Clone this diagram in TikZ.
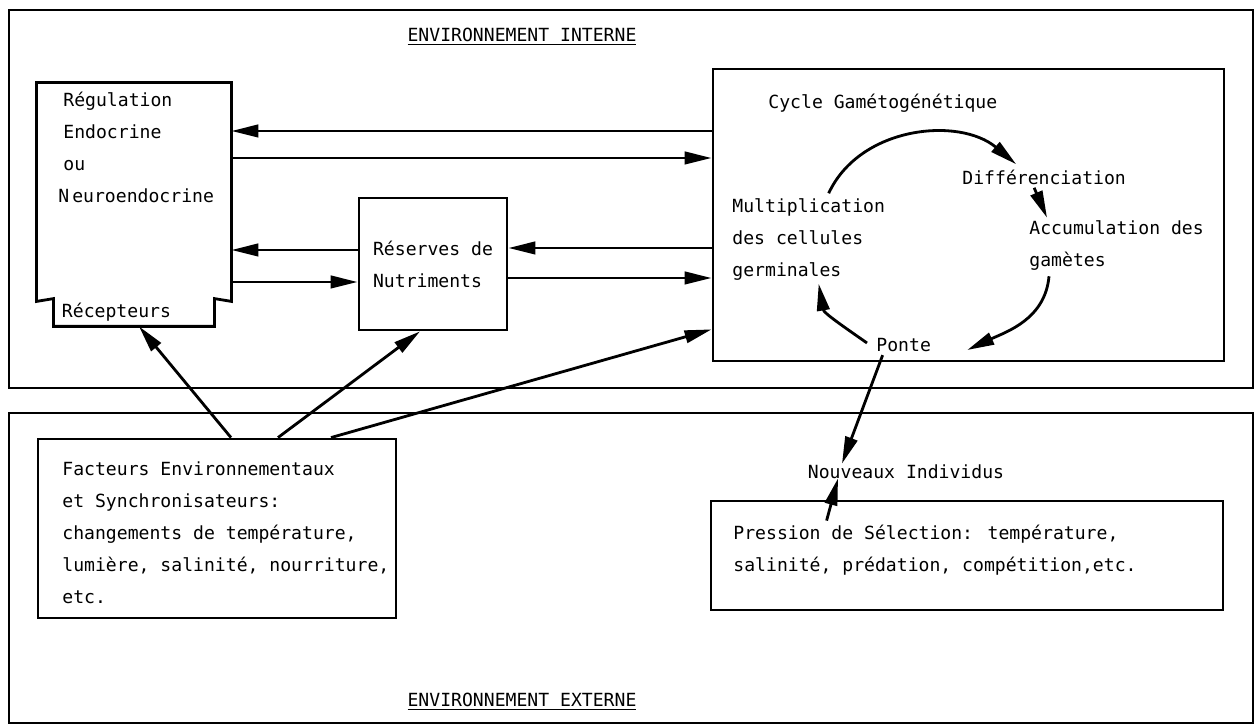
\documentclass[tikz,border=0pt]{standalone}
\usepackage{fontspec}
\setmainfont{DejaVu Sans Mono}
\usetikzlibrary{arrows.meta,calc}

\begin{document}
\begin{tikzpicture}
[
x=0.2mm, y=0.2mm,
line width=1.6pt,
every node/.style={inner sep=0pt, font=\fontsize{10.3}{18.2}\selectfont},
cadre/.style={draw, rectangle, line width=1.3pt},
boite/.style={draw, rectangle, line width=1.6pt},
texte/.style={anchor=west, align=left},
fleche/.style={-{Triangle[length=5.4mm,width=2.5mm]}}
]
\useasboundingbox (0,0) rectangle (1260,727);

\node[cadre, minimum width=248.8mm, minimum height=75.6mm] (interne) at (631,528) {};
\node[cadre, minimum width=248.8mm, minimum height=62mm] (externe) at (631,159) {};
\node (titreint) at (522,690) {\underline{ENVIRONNEMENT INTERNE}};
\node (titreext) at (522,25) {\underline{ENVIRONNEMENT EXTERNE}};

\node[minimum width=38.4mm, minimum height=43.2mm] (regulation) at (134,535) {};
\node[minimum height=5mm, inner xsep=1.4mm, text width=28.8mm, align=left] (recepteurs) at (134,414.5) {Récepteurs};
\draw[boite] (regulation.south west) -- (recepteurs.north west) -- (recepteurs.south west)
  -- (recepteurs.south east) -- (recepteurs.north east) -- (regulation.south east)
  -- (regulation.north east) -- (regulation.north west) -- cycle;
\node[texte] (regtexte) at (62,579.5) {Régulation\\Endocrine\\ou\\\kern-1mm N\,euroendocrine};

\node[boite, minimum width=29.6mm, minimum height=26.4mm, align=left] (reserves) at (433,463) {Réserves de\\Nutriments};

\node[boite, minimum width=102.2mm, minimum height=58.4mm] (cycle) at (968.5,512) {};
\node[texte] (titrecycle) at (767,624) {Cycle Gamétogénétique};
\node[texte] (multiplication) at (731,487.5) {Multiplication\\des cellules\\germinales};
\node[texte] (differenciation) at (961,550) {Différenciation};
\node[texte] (accumulation) at (1028,481) {Accumulation des\\gamètes};
\node[texte] (ponte) at (875,382) {Ponte};

\node[boite, minimum width=71.6mm, minimum height=35.8mm] (facteurs) at (217,198.5) {};
\node[texte] (facteurstexte) at (61,194) {Facteurs Environnementaux\\et Synchronisateurs:\\changements de température,\\lumière, salinité, nourriture,\\etc.};
\node[boite, minimum width=102.4mm, minimum height=21.8mm] (pression) at (967,171.5) {};
\node[texte] (pressiontexte) at (732,176.5) {Pression de Sélection: température,\\salinité, prédation, compétition,etc.};
\node (nouveaux) at (906,255) {Nouveaux Individus};

\draw[fleche] ($(cycle.west)+(0,84)$) -- ($(regulation.east)+(0,61)$);
\draw[fleche] ($(regulation.east)+(0,34)$) -- ($(cycle.west)+(0,57)$);
\draw[fleche] ($(reserves.west)+(0,14)$) -- ($(regulation.east)+(0,-58)$);
\draw[fleche] ($(regulation.east)+(0,-90)$) -- ($(reserves.west)+(0,-18)$);
\draw[fleche] ($(cycle.west)+(0,-33)$) -- ($(reserves.east)+(0,16)$);
\draw[fleche] ($(reserves.east)+(0,-14)$) -- ($(cycle.west)+(0,-63)$);

\draw[fleche] ($(facteurs.north)+(14,0)$) -- ($(recepteurs.south)+(5,0)$);
\draw[fleche] ($(facteurs.north)+(61,0)$) -- ($(reserves.south)+(-13,0)$);
\draw[fleche] ($(facteurs.north)+(114,0)$) -- ($(cycle.south west)+(0,33)$);

\draw[fleche] ($(multiplication.north)+(20,4)$) to[out=65,in=140] ($(differenciation.north)+(-28,4)$);
\draw[fleche] ($(differenciation.south)+(-10,-2)$) -- ($(accumulation.north west)+(19,2)$);
\draw[fleche] ($(accumulation.south west)+(21,-4)$) to[out=-95,in=25] ($(ponte.east)+(35,-5)$);
\draw[fleche] ($(ponte.west)+(-8,2)$) to[out=145,in=-80] ($(multiplication.south)+(10,-2)$);

\draw[fleche] ($(ponte.south)+(-21,-2)$) -- ($(nouveaux.north)+(-64,0)$);
\draw[fleche] ($(pression.north west)+(117,-21)$) -- ($(nouveaux.south)+(-68,2)$);
\end{tikzpicture}
\end{document}
